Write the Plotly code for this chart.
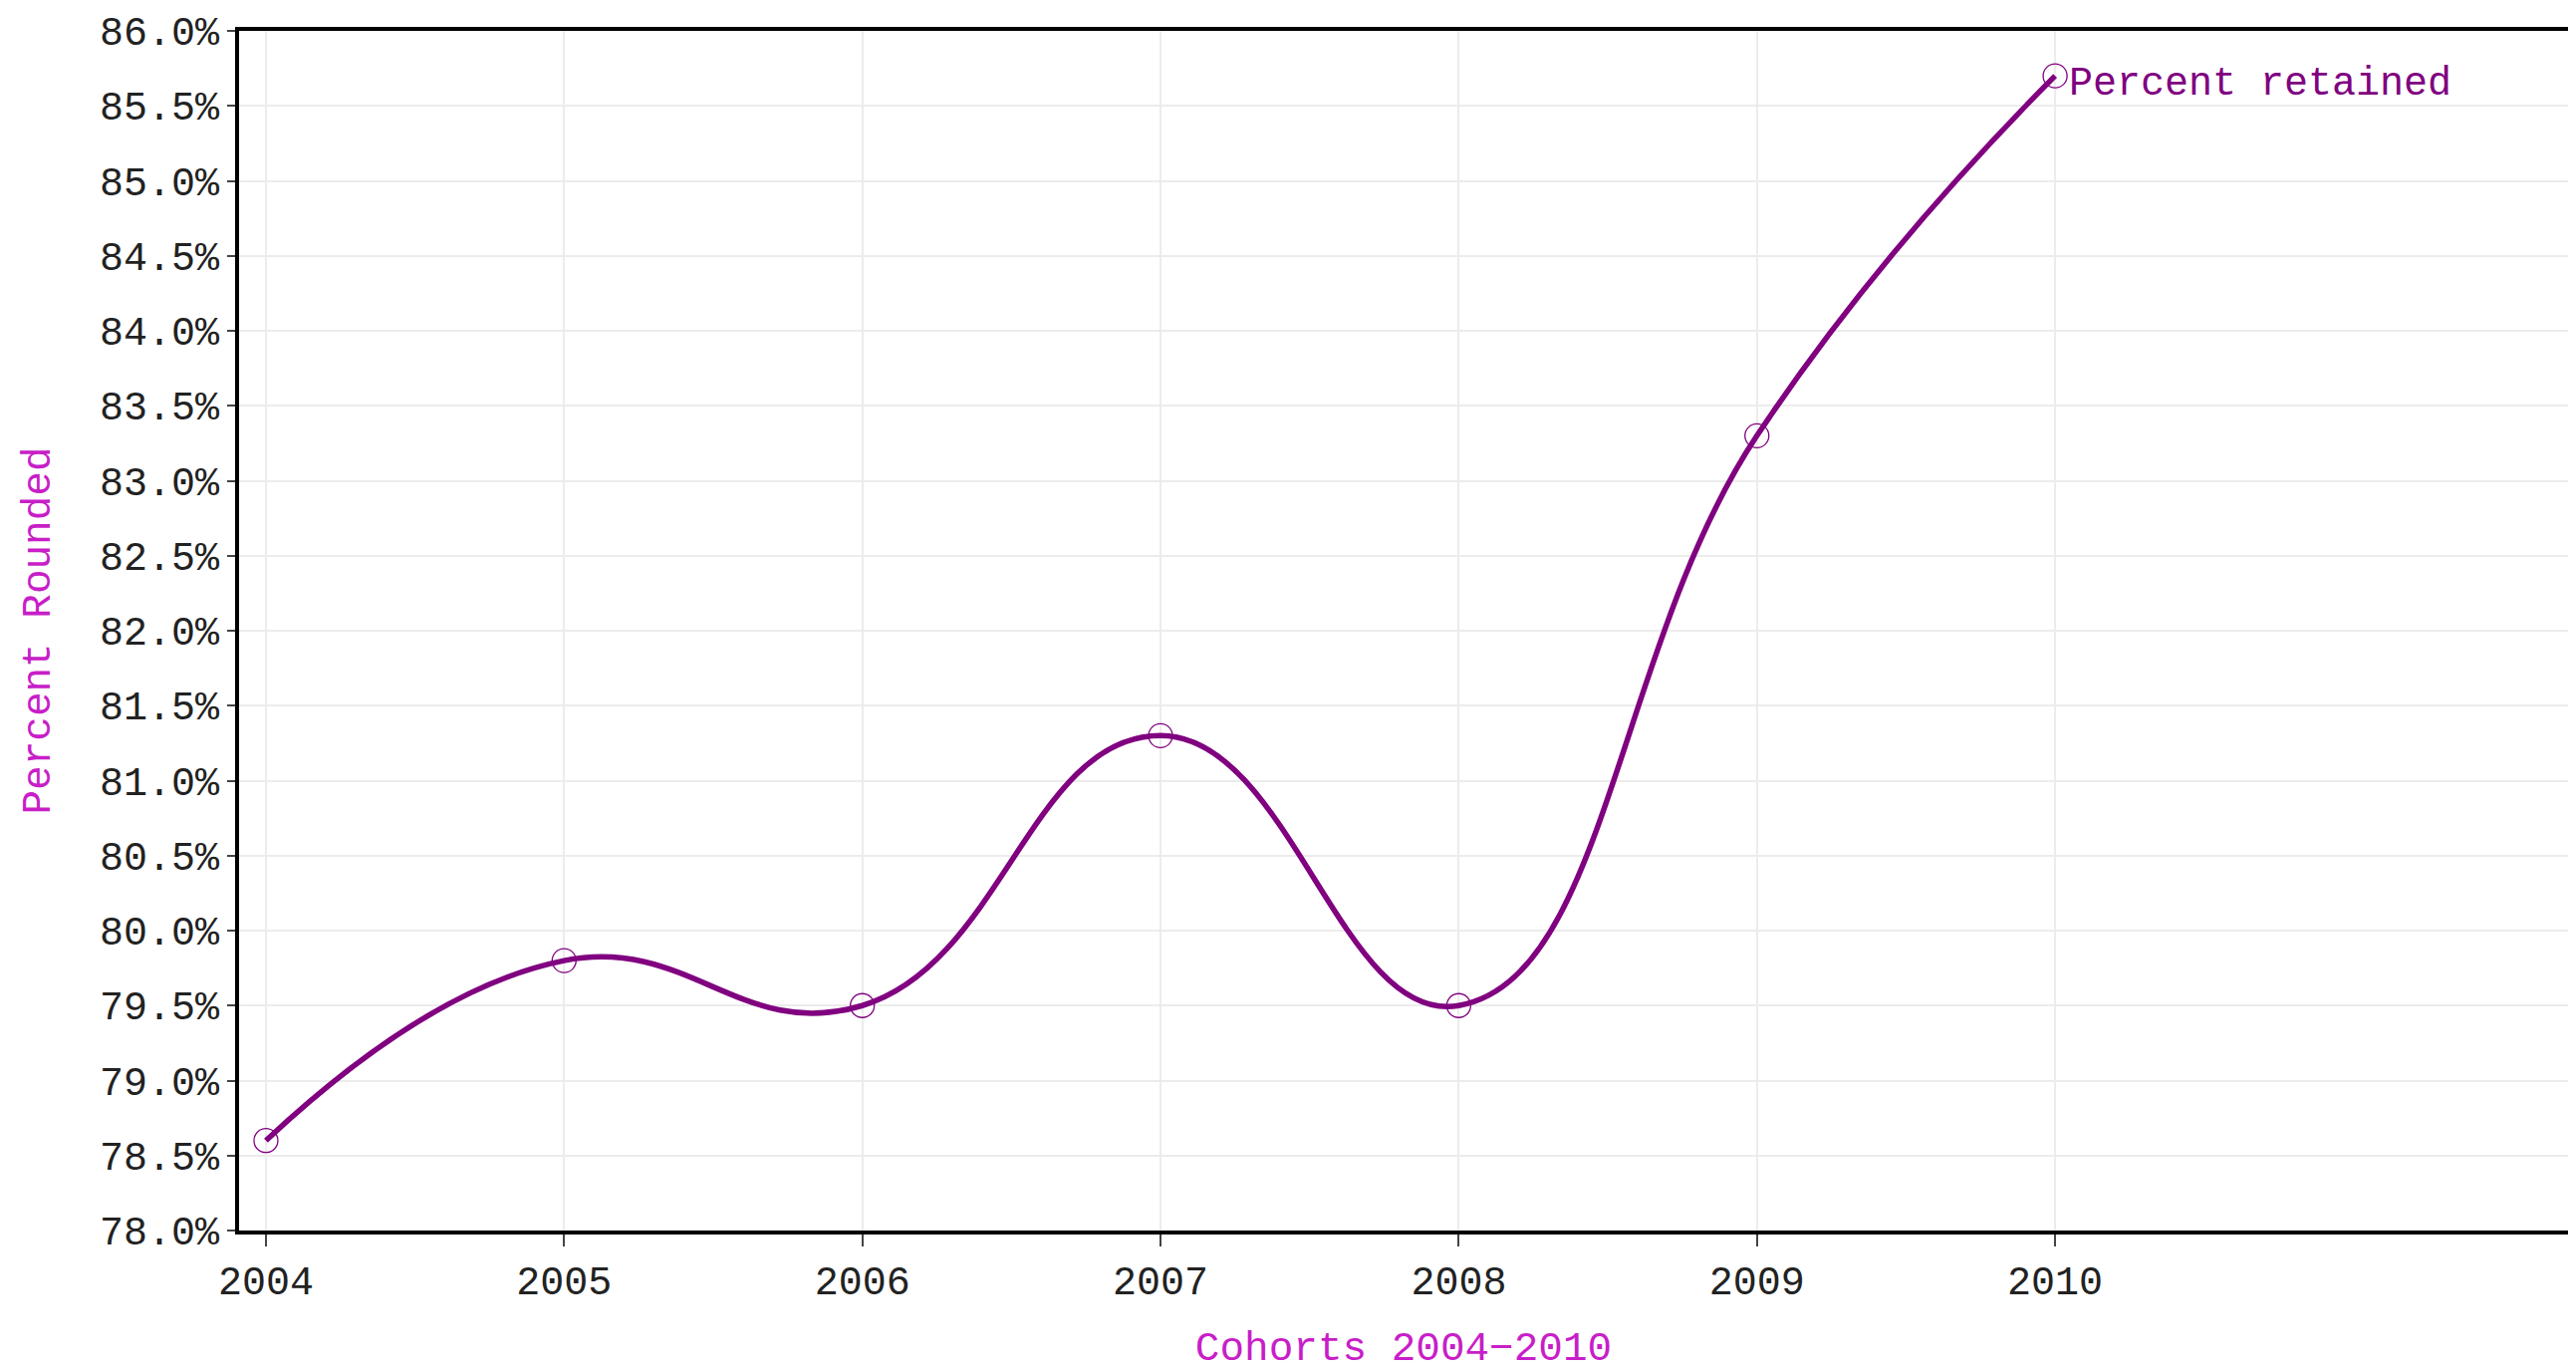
import plotly.graph_objects as go

years = [2004, 2005, 2006, 2007, 2008, 2009, 2010]
percent_retained = [78.6, 79.8, 79.5, 81.3, 79.5, 83.3, 85.7]
y_ticks = [78.0, 78.5, 79.0, 79.5, 80.0, 80.5, 81.0, 81.5, 82.0, 82.5, 83.0, 83.5, 84.0, 84.5, 85.0, 85.5, 86.0]
y_tick_labels = [f"{v:.1f}%" for v in y_ticks]
series_name = "Percent retained"

FONT = "Liberation Mono"
PURPLE = "#800080"
MAGENTA = "#C81EC8"

fig = go.Figure()
fig.add_trace(go.Scatter(
    x=years, y=percent_retained, mode="lines",
    line=dict(color=PURPLE, width=5.5, shape="spline", smoothing=1.3),
    name=series_name, showlegend=False, hoverinfo="skip",
))
fig.add_trace(go.Scatter(
    x=years, y=percent_retained, mode="markers",
    marker=dict(symbol="circle-open", size=24, color=PURPLE, line=dict(width=1.3, color=PURPLE)),
    name=series_name, showlegend=False,
))

fig.add_annotation(
    x=years[-1], y=percent_retained[-1], text=series_name,
    showarrow=False, xanchor="left", yanchor="middle",
    xshift=12, yshift=-8,
    font=dict(family=FONT, size=40, color=PURPLE),
)

fig.update_layout(
    width=2578, height=1369,
    margin=dict(l=232, r=4, t=17, b=134),
    paper_bgcolor="white", plot_bgcolor="white",
    font=dict(family=FONT, size=40, color="#222222"),
    xaxis=dict(
        range=[2003.91, 2011.72],
        tickvals=years, ticktext=[str(y) for y in years],
        showgrid=True, gridcolor="#ececec", gridwidth=1.5,
        zeroline=False,
        showline=True, linecolor="black", linewidth=4, mirror=True,
        ticks="outside", ticklen=12, tickwidth=2, tickcolor="#444444",
        tickfont=dict(family=FONT, size=40, color="#222222"),
        ticklabeloverflow="allow",
        title=dict(text="Cohorts 2004\u22122010", font=dict(family=FONT, size=41, color=MAGENTA), standoff=33),
    ),
    yaxis=dict(
        range=[78.0, 86.0],
        tickvals=y_ticks, ticktext=y_tick_labels,
        showgrid=True, gridcolor="#ececec", gridwidth=1.5,
        zeroline=False,
        showline=True, linecolor="black", linewidth=4, mirror=True,
        ticks="outside", ticklen=8, tickwidth=2, tickcolor="#444444",
        tickfont=dict(family=FONT, size=40, color="#222222"),
        ticklabeloverflow="allow",
        title=dict(text="Percent Rounded", font=dict(family=FONT, size=41, color=MAGENTA), standoff=38),
    ),
)

fig.write_html("out.html")
